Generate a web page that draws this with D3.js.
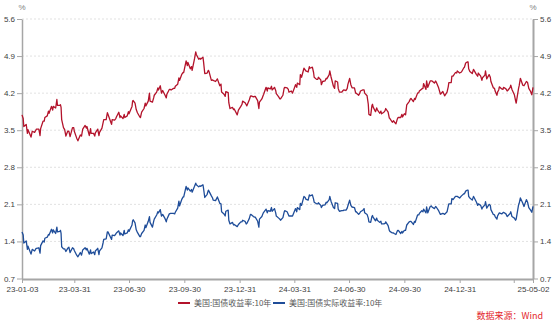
<!DOCTYPE html>
<html>
<head>
<meta charset="utf-8">
<script src="https://cdn.jsdelivr.net/npm/d3@7/dist/d3.min.js"></script>
<style>
  html, body { margin: 0; padding: 0; background: #fff; }
  svg { display: block; }
  text { font-family: "Liberation Sans", "Noto Sans CJK SC", sans-serif; }
</style>
</head>
<body>
<svg id="chart" width="554" height="324"></svg>
<script>
// Trading dates (2023-01-03 .. 2025-05-02)
const dates = [
  "2023-01-03","2023-01-05","2023-01-06","2023-01-10","2023-01-12","2023-01-13","2023-01-18","2023-01-20","2023-01-24","2023-01-26","2023-01-27","2023-01-31",
  "2023-02-02","2023-02-03","2023-02-07","2023-02-09","2023-02-10","2023-02-14","2023-02-16","2023-02-17","2023-02-21","2023-02-23","2023-02-24","2023-02-28",
  "2023-03-02","2023-03-03","2023-03-07","2023-03-08","2023-03-09","2023-03-10","2023-03-13","2023-03-15","2023-03-17","2023-03-20","2023-03-22","2023-03-24","2023-03-28","2023-03-30","2023-03-31",
  "2023-04-04","2023-04-06","2023-04-10","2023-04-12","2023-04-14","2023-04-18","2023-04-20","2023-04-21","2023-04-25","2023-04-27","2023-04-28",
  "2023-05-02","2023-05-04","2023-05-05","2023-05-09","2023-05-11","2023-05-12","2023-05-16","2023-05-18","2023-05-19","2023-05-23","2023-05-25","2023-05-26","2023-05-31",
  "2023-06-01","2023-06-02","2023-06-06","2023-06-08","2023-06-09","2023-06-13","2023-06-15","2023-06-16","2023-06-20","2023-06-22","2023-06-23","2023-06-27","2023-06-29","2023-06-30",
  "2023-07-05","2023-07-06","2023-07-07","2023-07-10","2023-07-12","2023-07-14","2023-07-18","2023-07-19","2023-07-21","2023-07-25","2023-07-27","2023-07-28",
  "2023-08-01","2023-08-03","2023-08-04","2023-08-08","2023-08-10","2023-08-11","2023-08-15","2023-08-17","2023-08-18","2023-08-21","2023-08-23","2023-08-25","2023-08-29","2023-08-31",
  "2023-09-01","2023-09-05","2023-09-07","2023-09-08","2023-09-12","2023-09-14","2023-09-15","2023-09-19","2023-09-21","2023-09-22","2023-09-26","2023-09-28","2023-09-29",
  "2023-10-03","2023-10-05","2023-10-06","2023-10-10","2023-10-12","2023-10-13","2023-10-17","2023-10-19","2023-10-20","2023-10-24","2023-10-26","2023-10-27","2023-10-31",
  "2023-11-01","2023-11-03","2023-11-07","2023-11-09","2023-11-10","2023-11-14","2023-11-16","2023-11-17","2023-11-21","2023-11-24","2023-11-28","2023-11-30",
  "2023-12-01","2023-12-05","2023-12-07","2023-12-08","2023-12-12","2023-12-13","2023-12-15","2023-12-19","2023-12-21","2023-12-22","2023-12-27","2023-12-29",
  "2024-01-02","2024-01-04","2024-01-05","2024-01-09","2024-01-11","2024-01-12","2024-01-16","2024-01-18","2024-01-19","2024-01-23","2024-01-25","2024-01-26","2024-01-30",
  "2024-02-01","2024-02-02","2024-02-06","2024-02-08","2024-02-09","2024-02-13","2024-02-15","2024-02-16","2024-02-20","2024-02-22","2024-02-23","2024-02-27","2024-02-29",
  "2024-03-01","2024-03-05","2024-03-07","2024-03-08","2024-03-12","2024-03-14","2024-03-15","2024-03-19","2024-03-21","2024-03-22","2024-03-26","2024-03-28",
  "2024-04-02","2024-04-04","2024-04-05","2024-04-09","2024-04-10","2024-04-12","2024-04-16","2024-04-18","2024-04-19","2024-04-23","2024-04-25","2024-04-26","2024-04-30",
  "2024-05-02","2024-05-03","2024-05-07","2024-05-09","2024-05-10","2024-05-14","2024-05-15","2024-05-17","2024-05-21","2024-05-23","2024-05-24","2024-05-28","2024-05-29","2024-05-31",
  "2024-06-04","2024-06-06","2024-06-07","2024-06-11","2024-06-12","2024-06-14","2024-06-18","2024-06-20","2024-06-21","2024-06-25","2024-06-27","2024-06-28",
  "2024-07-01","2024-07-03","2024-07-05","2024-07-09","2024-07-11","2024-07-12","2024-07-16","2024-07-18","2024-07-19","2024-07-23","2024-07-25","2024-07-26","2024-07-30",
  "2024-08-01","2024-08-02","2024-08-05","2024-08-07","2024-08-08","2024-08-09","2024-08-13","2024-08-15","2024-08-16","2024-08-20","2024-08-22","2024-08-23","2024-08-27","2024-08-29","2024-08-30",
  "2024-09-03","2024-09-05","2024-09-06","2024-09-10","2024-09-12","2024-09-13","2024-09-16","2024-09-18","2024-09-19","2024-09-20","2024-09-24","2024-09-26","2024-09-27","2024-09-30",
  "2024-10-02","2024-10-04","2024-10-08","2024-10-10","2024-10-11","2024-10-15","2024-10-17","2024-10-18","2024-10-22","2024-10-24","2024-10-25","2024-10-29","2024-10-31",
  "2024-11-01","2024-11-05","2024-11-06","2024-11-08","2024-11-12","2024-11-14","2024-11-15","2024-11-19","2024-11-21","2024-11-22","2024-11-26","2024-11-29",
  "2024-12-03","2024-12-05","2024-12-06","2024-12-10","2024-12-12","2024-12-13","2024-12-17","2024-12-18","2024-12-20","2024-12-24","2024-12-26","2024-12-27","2024-12-31",
  "2025-01-03","2025-01-07","2025-01-08","2025-01-10","2025-01-13","2025-01-14","2025-01-15","2025-01-17","2025-01-21","2025-01-23","2025-01-24","2025-01-28","2025-01-30","2025-01-31",
  "2025-02-04","2025-02-06","2025-02-07","2025-02-11","2025-02-12","2025-02-14","2025-02-18","2025-02-20","2025-02-21","2025-02-25","2025-02-27","2025-02-28",
  "2025-03-03","2025-03-04","2025-03-06","2025-03-07","2025-03-11","2025-03-13","2025-03-14","2025-03-18","2025-03-20","2025-03-21","2025-03-25","2025-03-26","2025-03-28",
  "2025-04-01","2025-04-03","2025-04-04","2025-04-08","2025-04-09","2025-04-11","2025-04-15","2025-04-17","2025-04-21","2025-04-23","2025-04-25","2025-04-28","2025-04-30","2025-05-02"
];

// 美国:国债收益率:10年 (%)
const nominalYield = [
  3.79,3.72,3.57,3.61,3.44,3.51,3.37,3.48,3.46,3.50,3.52,3.52,
  3.40,3.53,3.67,3.67,3.74,3.77,3.86,3.82,3.95,3.88,3.95,3.92,
  4.08,3.97,3.97,3.98,3.93,3.70,3.55,3.51,3.39,3.48,3.48,3.38,3.55,3.55,3.48,
  3.35,3.30,3.41,3.39,3.52,3.59,3.54,3.57,3.40,3.53,3.44,
  3.44,3.39,3.45,3.52,3.40,3.46,3.54,3.65,3.70,3.70,3.83,3.80,3.64,
  3.61,3.70,3.69,3.72,3.75,3.84,3.74,3.77,3.72,3.80,3.74,3.77,3.85,3.81,
  3.95,4.05,4.06,4.01,3.89,3.83,3.75,3.74,3.84,3.91,4.01,3.96,
  4.05,4.20,4.05,4.03,4.11,4.16,4.22,4.30,4.26,4.34,4.20,4.25,4.16,4.11,
  4.18,4.27,4.27,4.26,4.29,4.29,4.33,4.37,4.49,4.44,4.56,4.59,4.59,
  4.81,4.72,4.78,4.66,4.70,4.63,4.85,4.98,4.93,4.84,4.86,4.84,4.88,
  4.79,4.57,4.58,4.63,4.61,4.44,4.45,4.44,4.42,4.47,4.34,4.37,
  4.22,4.18,4.14,4.23,4.21,4.02,3.91,3.93,3.89,3.90,3.79,3.88,
  3.95,3.99,4.05,4.02,3.98,3.96,4.07,4.14,4.15,4.13,4.14,4.14,4.06,
  3.91,4.03,4.09,4.15,4.18,4.31,4.24,4.30,4.28,4.33,4.26,4.31,4.25,
  4.19,4.13,4.09,4.09,4.16,4.29,4.31,4.30,4.27,4.22,4.24,4.20,
  4.36,4.31,4.39,4.36,4.55,4.50,4.67,4.64,4.62,4.60,4.70,4.67,4.69,
  4.59,4.50,4.46,4.46,4.50,4.45,4.36,4.42,4.43,4.48,4.47,4.55,4.62,4.51,
  4.33,4.29,4.43,4.41,4.29,4.22,4.22,4.25,4.26,4.25,4.29,4.36,
  4.48,4.36,4.30,4.30,4.20,4.20,4.16,4.20,4.24,4.26,4.26,4.20,4.15,
  3.99,3.80,3.78,3.96,3.99,3.94,3.85,3.92,3.89,3.82,3.86,3.81,3.84,3.87,3.91,
  3.84,3.73,3.72,3.65,3.68,3.66,3.62,3.70,3.73,3.74,3.74,3.80,3.75,3.81,
  3.79,3.98,4.04,4.09,4.10,4.04,4.10,4.08,4.20,4.21,4.24,4.28,4.29,
  4.38,4.27,4.43,4.31,4.43,4.43,4.43,4.39,4.43,4.41,4.30,4.18,
  4.23,4.18,4.15,4.22,4.32,4.40,4.40,4.52,4.52,4.59,4.58,4.62,4.58,
  4.60,4.68,4.69,4.77,4.79,4.79,4.66,4.61,4.57,4.65,4.63,4.55,4.52,4.58,
  4.52,4.44,4.49,4.54,4.62,4.47,4.55,4.50,4.42,4.30,4.29,4.24,
  4.16,4.22,4.26,4.32,4.28,4.27,4.31,4.28,4.24,4.25,4.31,4.35,4.27,
  4.17,4.06,4.01,4.29,4.34,4.48,4.35,4.34,4.42,4.40,4.29,4.23,4.17,4.31
];

// 美国:国债实际收益率:10年 (%)
const realYield = [
  1.58,1.52,1.37,1.41,1.25,1.31,1.16,1.25,1.22,1.26,1.27,1.28,
  1.18,1.32,1.41,1.39,1.46,1.48,1.53,1.52,1.63,1.56,1.62,1.55,
  1.67,1.58,1.59,1.61,1.55,1.30,1.26,1.26,1.21,1.27,1.29,1.19,1.28,1.26,1.23,
  1.14,1.11,1.19,1.14,1.24,1.28,1.24,1.27,1.16,1.24,1.17,
  1.20,1.15,1.22,1.27,1.15,1.22,1.28,1.38,1.44,1.45,1.58,1.58,1.46,
  1.44,1.52,1.51,1.54,1.56,1.60,1.52,1.56,1.51,1.61,1.54,1.56,1.62,1.59,
  1.71,1.79,1.81,1.75,1.62,1.57,1.49,1.49,1.55,1.61,1.71,1.66,
  1.78,1.87,1.76,1.67,1.78,1.82,1.90,1.96,1.94,2.00,1.88,1.91,1.83,1.77,
  1.82,1.92,1.93,1.93,1.93,1.92,1.95,2.03,2.16,2.07,2.20,2.24,2.24,
  2.44,2.37,2.41,2.35,2.38,2.33,2.44,2.50,2.47,2.43,2.45,2.44,2.47,
  2.40,2.23,2.29,2.37,2.35,2.26,2.22,2.18,2.17,2.24,2.12,2.11,
  1.96,1.92,1.88,1.97,1.99,1.80,1.73,1.76,1.71,1.72,1.68,1.72,
  1.77,1.77,1.80,1.78,1.73,1.74,1.83,1.91,1.91,1.87,1.86,1.86,1.78,
  1.67,1.82,1.87,1.93,1.95,2.01,1.94,1.98,1.97,2.04,1.97,2.02,1.94,
  1.88,1.84,1.82,1.80,1.85,1.95,1.98,1.96,1.91,1.88,1.88,1.88,
  2.02,1.96,2.04,2.00,2.12,2.08,2.25,2.23,2.20,2.18,2.28,2.26,2.28,
  2.20,2.14,2.11,2.11,2.13,2.08,2.04,2.08,2.09,2.14,2.13,2.19,2.25,2.16,
  2.04,2.02,2.13,2.12,2.01,1.97,1.98,1.98,1.99,1.99,2.03,2.07,
  2.18,2.08,2.05,2.04,1.96,1.96,1.91,1.94,1.96,1.99,2.02,1.94,1.91,
  1.84,1.77,1.76,1.87,1.89,1.86,1.79,1.84,1.80,1.76,1.78,1.73,1.73,1.74,1.77,
  1.70,1.61,1.59,1.56,1.56,1.55,1.53,1.59,1.61,1.61,1.55,1.59,1.56,1.61,
  1.61,1.71,1.77,1.78,1.78,1.72,1.78,1.76,1.90,1.90,1.93,1.98,1.96,
  2.01,1.94,2.05,1.94,2.06,2.07,2.05,2.02,2.06,2.05,1.98,1.91,
  1.93,1.92,1.91,1.96,2.06,2.11,2.11,2.21,2.19,2.25,2.25,2.25,2.22,
  2.26,2.30,2.30,2.35,2.37,2.37,2.25,2.22,2.18,2.25,2.23,2.14,2.08,2.11,
  2.08,2.01,2.04,2.09,2.15,2.03,2.10,2.08,2.00,1.91,1.90,1.87,
  1.82,1.88,1.92,1.94,1.92,1.94,1.95,1.92,1.87,1.88,1.93,1.96,1.87,
  1.84,1.80,1.82,2.09,2.12,2.22,2.12,2.06,2.19,2.14,2.04,1.99,1.95,2.06
];

const seriesNames = ["美国:国债收益率:10年", "美国:国债实际收益率:10年"];
const yTicks = [0.7, 1.4, 2.1, 2.8, 3.5, 4.2, 4.9, 5.6];
const xTickDates = ["2023-01-03","2023-03-31","2023-06-30","2023-09-30","2023-12-31","2024-03-31","2024-06-30","2024-09-30","2024-12-31","2025-03-31","2025-05-02"];
const xTickLabels = ["23-01-03","23-03-31","23-06-30","23-09-30","23-12-31","24-03-31","24-06-30","24-09-30","24-12-31","","25-05-02"];
const unitLabel = "%";
const sourceNote = "数据来源：Wind";

const colors = ["#b3132b", "#1f4d99"];

const parse = d3.timeParse("%Y-%m-%d");
const dateObjs = dates.map(parse);
const series = [nominalYield, realYield].map(vals => vals.map((v, i) => ({ date: dateObjs[i], value: v })));

const margin = { left: 22, right: 21, top: 19, bottom: 45 };
const W = 554, H = 324;
const svg = d3.select("#chart");

const x = d3.scaleTime()
  .domain([parse("2023-01-03"), parse("2025-05-02")])
  .range([margin.left, W - margin.right]);
const y = d3.scaleLinear()
  .domain([0.7, 5.6])
  .range([H - margin.bottom - 0.5, margin.top]);

// dotted horizontal grid
svg.append("g")
  .selectAll("line")
  .data(yTicks.filter(t => t > 0.7))
  .join("line")
  .attr("x1", margin.left).attr("x2", W - margin.right)
  .attr("y1", d => y(d)).attr("y2", d => y(d))
  .attr("stroke", "#d9d9d9")
  .attr("stroke-width", 0.8)
  .attr("stroke-dasharray", "2,2");

const fmtY = d3.format(".1f");

function styleAxis(g, lineWidth) {
  g.select(".domain").attr("stroke", "#a6a6a6").attr("stroke-width", lineWidth);
  g.selectAll(".tick line").attr("stroke", "#a6a6a6").attr("stroke-width", 1);
  g.selectAll(".tick text").attr("fill", "#404040").style("font-size", "8px");
}

// left axis
const gl = svg.append("g")
  .attr("transform", `translate(${margin.left},0)`)
  .call(d3.axisLeft(y).tickValues(yTicks).tickFormat(fmtY).tickSize(5).tickSizeOuter(0).tickPadding(2));
styleAxis(gl, 1.5);

// right axis
const gr = svg.append("g")
  .attr("transform", `translate(${W - margin.right},0)`)
  .call(d3.axisRight(y).tickValues(yTicks).tickFormat(fmtY).tickSize(5).tickSizeOuter(0).tickPadding(2));
styleAxis(gr, 2);

// bottom axis
const tickDateObjs = xTickDates.map(parse);
const gb = svg.append("g")
  .attr("transform", `translate(0,${H - margin.bottom})`)
  .call(d3.axisBottom(x).tickValues(tickDateObjs)
    .tickFormat((d, i) => xTickLabels[i]).tickSize(4).tickSizeOuter(0).tickPadding(3));
styleAxis(gb, 2);

// unit labels
[margin.left, W - margin.right].forEach(px => {
  svg.append("text")
    .attr("x", px).attr("y", 10)
    .attr("text-anchor", "middle")
    .attr("fill", "#7f7f7f")
    .style("font-size", "8px")
    .text(unitLabel);
});

// lines
const line = d3.line().x(d => x(d.date)).y(d => y(d.value));
series.forEach((s, i) => {
  svg.append("path")
    .datum(s)
    .attr("fill", "none")
    .attr("stroke", colors[i])
    .attr("stroke-width", 1.3)
    .attr("stroke-linejoin", "round")
    .attr("d", line);
});

// legend
const legendX = [178, 273];
const legend = svg.append("g").attr("transform", "translate(0,303)");
seriesNames.forEach((name, i) => {
  legend.append("line")
    .attr("x1", legendX[i]).attr("x2", legendX[i] + 12)
    .attr("y1", 0).attr("y2", 0)
    .attr("stroke", colors[i]).attr("stroke-width", 2);
  legend.append("text")
    .attr("x", legendX[i] + 16).attr("y", 3)
    .attr("fill", "#595959")
    .style("font-family", "'Noto Sans CJK SC', sans-serif")
    .style("font-size", "8px")
    .text(name);
});

// source note
svg.append("text")
  .attr("x", 543).attr("y", 319)
  .attr("text-anchor", "end")
  .attr("fill", "#e3262c")
  .style("font-family", "'Noto Sans CJK SC', sans-serif")
  .style("font-size", "9px")
  .text(sourceNote);
</script>
</body>
</html>
